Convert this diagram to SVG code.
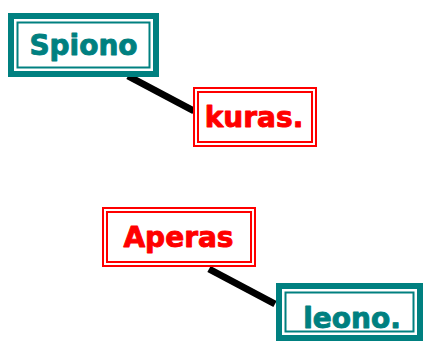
<svg xmlns="http://www.w3.org/2000/svg" width="426" height="342" viewBox="0 0 426 342">
<style>
.teal-outer{fill:#ffffff;stroke:#008080;stroke-width:6}
.teal-inner{fill:none;stroke:#008080;stroke-width:2}
.red-line{fill:#ffffff;stroke:#ff0000;stroke-width:2}
.red-inner{fill:none;stroke:#ff0000;stroke-width:2}
.lbl{font-family:"DejaVu Sans",Verdana,sans-serif;font-weight:bold;font-size:28px;text-anchor:middle;stroke-width:0.9;stroke-linejoin:round}
.t{fill:#008080;stroke:#008080}
.r{fill:#ff0000;stroke:#ff0000}
.conn{stroke:#000000;stroke-width:7;stroke-linecap:butt;fill:none}
</style>
<rect width="426" height="342" fill="#ffffff"/>
<g id="connectors">
<line class="conn" x1="128" y1="76" x2="194" y2="111"/>
<line class="conn" x1="209" y1="269" x2="275" y2="304"/>
</g>
<g id="node-spiono">
<rect class="teal-outer" x="11" y="16" width="145" height="58"/>
<rect class="teal-inner" x="17.5" y="22.5" width="132" height="45"/>
<text class="lbl t" x="83.5" y="55">Spiono</text>
</g>
<g id="node-kuras">
<rect class="red-line" x="194" y="88" width="122" height="58"/>
<rect class="red-inner" x="198" y="92" width="114" height="50"/>
<text class="lbl r" x="254" y="127">kuras.</text>
</g>
<g id="node-aperas">
<rect class="red-line" x="103" y="208" width="152" height="58"/>
<rect class="red-inner" x="107" y="212" width="144" height="50"/>
<text class="lbl r" x="178.5" y="247">Aperas</text>
</g>
<g id="node-leono">
<rect class="teal-outer" x="279" y="286" width="141" height="52"/>
<rect class="teal-inner" x="285.5" y="292.5" width="128" height="39"/>
<text class="lbl t" x="352" y="328">leono.</text>
</g>
</svg>
